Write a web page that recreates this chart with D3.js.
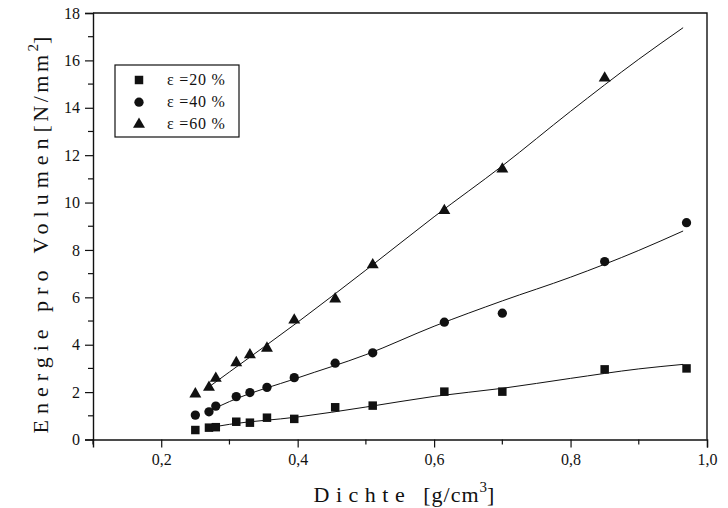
<!DOCTYPE html>
<html>
<head>
<meta charset="utf-8">
<script src="https://cdn.jsdelivr.net/npm/d3@7"></script>
<style>
  body { margin: 0; background: #fff; }
  svg text { font-family: "Liberation Serif", "Times New Roman", Times, serif; fill: #111; }
</style>
</head>
<body>
<svg id="chart" width="728" height="508"></svg>
<script>
// density values shared by all three series
const dichte = [0.25, 0.27, 0.28, 0.31, 0.33, 0.355, 0.395, 0.455, 0.51, 0.615, 0.70, 0.85, 0.97];
const eps20 = [0.40, 0.50, 0.52, 0.75, 0.71, 0.92, 0.87, 1.36, 1.43, 2.02, 2.02, 2.96, 3.00];
const eps40 = [1.03, 1.17, 1.41, 1.81, 1.98, 2.20, 2.61, 3.22, 3.66, 4.95, 5.33, 7.51, 9.15];
const eps60 = [1.92, 2.20, 2.58, 3.24, 3.57, 3.85, 5.04, 5.93, 7.37, 9.66, 11.41, 15.25, null];

// fitted curves
const fitX = [0.27, 0.30, 0.40, 0.50, 0.60, 0.70, 0.80, 0.90, 0.965];
const fit20 = [0.50, 0.64, 0.95, 1.37, 1.82, 2.16, 2.58, 2.98, 3.17];
const fit40 = [1.20, 1.60, 2.60, 3.58, 4.78, 5.85, 6.85, 7.98, 8.80];
const fit60 = [2.22, 2.85, 4.95, 7.15, 9.40, 11.55, 13.85, 16.05, 17.38];

const legendLabels = ['\u03b5 =20 %', '\u03b5 =40 %', '\u03b5 =60 %'];
const xTicks = [0.2, 0.4, 0.6, 0.8, 1.0];
const xMinor = [0.1, 0.3, 0.5, 0.7, 0.9];
const yTicks = [0, 2, 4, 6, 8, 10, 12, 14, 16, 18];
const yMinor = [1, 3, 5, 7, 9, 11, 13, 15, 17];

const svg = d3.select('#chart');
const pLeft = 93, pRight = 707, pTop = 13, pBottom = 439.5;
const serif = '"Liberation Serif", "Times New Roman", Times, serif';

const x = d3.scaleLinear().domain([0.1, 1.0]).range([pLeft, pRight]);
const y = d3.scaleLinear().domain([0, 18]).range([pBottom, pTop]);

const fmt = d => d.toFixed(1).replace('.', ',');

// frame (top and right sides)
svg.append('path')
  .attr('d', `M${pLeft},${pTop}H${pRight}V${pBottom}`)
  .attr('fill', 'none')
  .attr('stroke', '#111')
  .attr('stroke-width', 1.4);

// x axis
const gx = svg.append('g').attr('transform', `translate(0,${pBottom})`)
  .call(d3.axisBottom(x).tickValues(xTicks).tickFormat(fmt).tickSize(8).tickPadding(6));
gx.append('g').selectAll('line').data(xMinor).enter().append('line')
  .attr('x1', d => x(d)).attr('x2', d => x(d)).attr('y1', 0).attr('y2', 5);

// y axis
const gy = svg.append('g').attr('transform', `translate(${pLeft},0)`)
  .call(d3.axisLeft(y).tickValues(yTicks).tickSize(8).tickPadding(5));
gy.append('g').selectAll('line').data(yMinor).enter().append('line')
  .attr('x1', 0).attr('x2', -5).attr('y1', d => y(d)).attr('y2', d => y(d));

gx.attr('font-family', serif);
gy.attr('font-family', serif);
svg.selectAll('.domain').attr('stroke', '#111').attr('stroke-width', 1.4);
svg.selectAll('g line').attr('stroke', '#111').attr('stroke-width', 1.2);
svg.selectAll('.tick text').attr('font-size', 16).attr('fill', '#111');

// fit lines
const line = d3.line().x(d => x(d[0])).y(d => y(d[1])).curve(d3.curveMonotoneX);
[fit20, fit40, fit60].forEach(f => {
  svg.append('path')
    .datum(fitX.map((v, i) => [v, f[i]]))
    .attr('d', line)
    .attr('fill', 'none')
    .attr('stroke', '#111')
    .attr('stroke-width', 1);
});

// markers
const symbols = [
  d3.symbol().type(d3.symbolSquare).size(72),
  d3.symbol().type(d3.symbolCircle).size(68),
  d3.symbol().type(d3.symbolTriangle).size(62)
];
[eps20, eps40, eps60].forEach((s, k) => {
  svg.append('g').selectAll('path')
    .data(dichte.map((v, i) => [v, s[i]]).filter(d => d[1] != null))
    .enter().append('path')
    .attr('transform', d => `translate(${x(d[0])},${y(d[1])})`)
    .attr('d', symbols[k])
    .attr('fill', '#111');
});

// legend
const lg = svg.append('g').attr('font-family', serif);
lg.append('rect')
  .attr('x', 115).attr('y', 65).attr('width', 124).attr('height', 72)
  .attr('fill', '#fff').attr('stroke', '#111').attr('stroke-width', 1.2);
legendLabels.forEach((t, i) => {
  const cy = 80 + i * 22.2;
  lg.append('path')
    .attr('transform', `translate(139,${cy})`)
    .attr('d', symbols[i])
    .attr('fill', '#111');
  lg.append('text')
    .attr('x', 167).attr('y', cy + 5)
    .attr('font-size', 16)
    .attr('letter-spacing', 0.8)
    .text(t);
});

// axis titles
const xt = svg.append('text')
  .attr('x', 404).attr('y', 502)
  .attr('text-anchor', 'middle')
  .attr('font-family', serif)
  .attr('font-size', 22);
xt.append('tspan').attr('letter-spacing', 6.5).text('Dichte ');
xt.append('tspan').attr('letter-spacing', 1).text('[g/cm');
xt.append('tspan').attr('font-size', 15).attr('dy', -10).text('3');
xt.append('tspan').attr('dy', 10).text(']');

const yt = svg.append('text')
  .attr('transform', 'translate(48,235) rotate(-90)')
  .attr('text-anchor', 'middle')
  .attr('font-family', serif)
  .attr('font-size', 22);
yt.append('tspan').attr('letter-spacing', 6).text('Energie pro Volumen');
yt.append('tspan').attr('letter-spacing', 3.5).text('[N/mm');
yt.append('tspan').attr('font-size', 15).attr('dy', -10).text('2');
yt.append('tspan').attr('dy', 10).text(']');
</script>
</body>
</html>
